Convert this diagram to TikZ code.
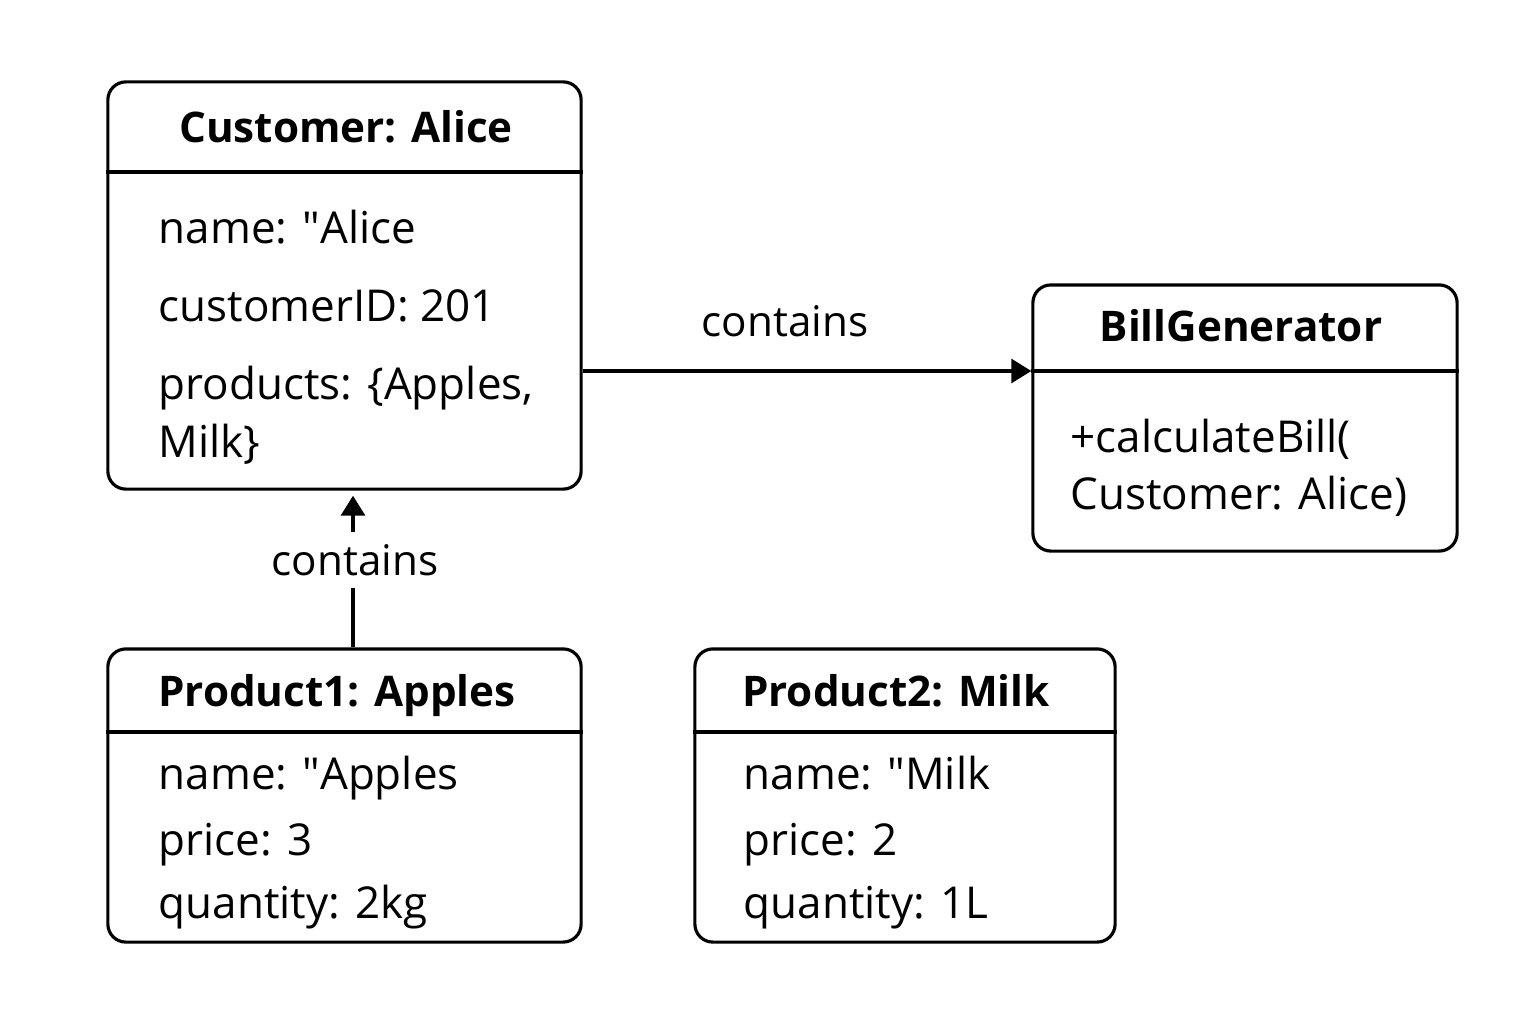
\documentclass[tikz,border=0pt]{standalone}
\usepackage{fontspec}
\setmainfont{Open Sans}
\usetikzlibrary{arrows.meta}

\begin{document}
\begin{tikzpicture}[x=0.01cm,y=-0.01cm]
  \tikzstyle{box}=[rectangle,draw,line width=0.9pt,rounded corners=0.18cm,inner sep=0pt]
  \tikzstyle{title}=[anchor=base,inner sep=0pt,font=\bfseries\fontsize{12}{14}\selectfont]
  \tikzstyle{attr}=[anchor=base west,inner sep=0pt,font=\fontsize{12.5}{15}\selectfont]
  \tikzstyle{rule}=[line width=0.9pt]
  \tikzstyle{link}=[draw,line width=0.9pt,-{Triangle[length=0.2cm,width=0.24cm]}]
  \useasboundingbox (0,0) rectangle (1536,1024);
  % objects
  \node [box,minimum width=4.73cm,minimum height=4.07cm] (cust)  at (344.5,285.5) {};
  \node [box,minimum width=4.24cm,minimum height=2.66cm] (bill)  at (1245,418) {};
  \node [box,minimum width=4.73cm,minimum height=2.93cm] (apple) at (344.5,795.5) {};
  \node [box,minimum width=4.20cm,minimum height=2.93cm] (milk)  at (905,795.5) {};
  \draw [rule] (cust.west |- 0,172) -- (cust.east |- 0,172);
  \draw [rule] (bill.west |- 0,371) -- (bill.east |- 0,371);
  \draw [rule] (apple.west |- 0,732) -- (apple.east |- 0,732);
  \draw [rule] (milk.west |- 0,732) -- (milk.east |- 0,732);
  % Customer: Alice
  \node [title] (custT) at (346,143) {Customer: Alice};
  \node [attr] (custA) at (158,243) {name: \textquotedbl Alice};
  \node [attr] (custB) at (158,321) {customerID: 201};
  \node [attr] (custC) at (158,399) {products: \{Apples,};
  \node [attr] (custD) at (158,457) {Milk\}};
  % BillGenerator
  \node [title] (billT) at (1241,341) {BillGenerator};
  \node [attr] (billA) at (1070,452) {+calculateBill(};
  \node [attr] (billB) at (1070,509) {Customer: Alice)};
  % Product1: Apples
  \node [title] (appleT) at (337,706) {Product1: Apples};
  \node [attr] (appleA) at (158,789) {name: \textquotedbl Apples};
  \node [attr] (appleB) at (158,855) {price: 3};
  \node [attr] (appleC) at (158,918) {quantity: 2kg};
  % Product2: Milk
  \node [title] (milkT) at (896,706) {Product2: Milk};
  \node [attr] (milkA) at (743,789) {name: \textquotedbl Milk};
  \node [attr] (milkB) at (743,855) {price: 2};
  \node [attr] (milkC) at (743,918) {quantity: 1L};
  % links
  \node [anchor=base,inner sep=0pt,font=\fontsize{12}{14}\selectfont] (has1) at (785,336) {contains};
  \path [link] (cust.east |- 0,371) -- (bill.west |- 0,371);
  \node [inner sep=0pt,minimum height=0.55cm,font=\fontsize{12}{14}\selectfont] (has2) at (355,560) {contains};
  \draw [rule] (has2.south -| 353,0) -- (apple.north -| 353,0);
  \path [link,shorten >=0.05cm] (has2.north -| 353,0) -- (cust.south -| 353,0);
\end{tikzpicture}
\end{document}
